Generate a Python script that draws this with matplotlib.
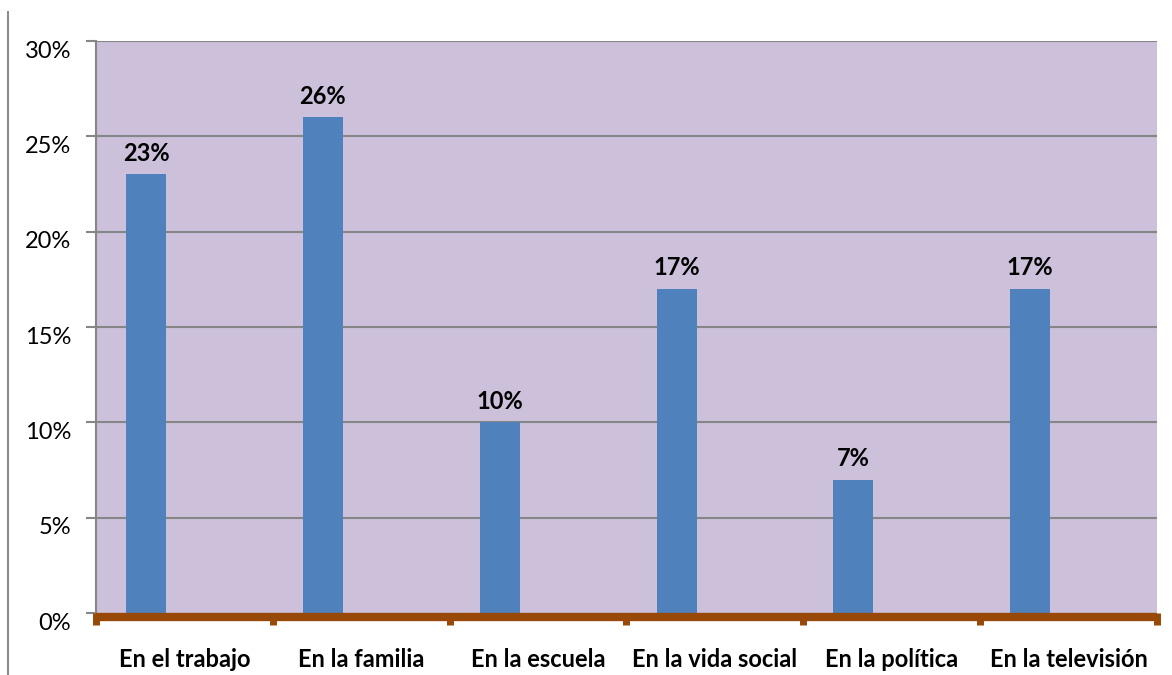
import matplotlib.pyplot as plt
import matplotlib.transforms as mtransforms
from matplotlib.lines import Line2D
import numpy as np

# Chart data
categories = ["En el trabajo", "En la familia", "En la escuela",
              "En la vida social", "En la política", "En la televisión"]
values = [23, 26, 10, 17, 7, 17]
yticks = [0, 5, 10, 15, 20, 25, 30]
ytick_labels = ["0%", "5%", "10%", "15%", "20%", "25%", "30%"]

BAR_COLOR = "#4F81BD"
PLOT_BG = "#CCC0DA"
GRID_COLOR = "#868686"
AXIS_COLOR = "#984807"

plt.rcParams['font.family'] = ['Lato', 'DejaVu Sans']

fig = plt.figure(figsize=(11.72, 6.75), dpi=100)
W, H = 1172, 675
# plot area in pixels: left 96, right 1157, top 41, bottom 613
ax = fig.add_axes([96 / W, 1 - 613 / H, (1157 - 96) / W, (613 - 41) / H])
ax.set_facecolor(PLOT_BG)

x = np.arange(len(categories))
ax.bar(x - 0.217, values, width=0.226, color=BAR_COLOR, zorder=3)

ax.set_xlim(-0.5, len(categories) - 0.5)
ax.set_ylim(0, 30)

# gridlines
for t in yticks[1:]:
    ax.axhline(t, color=GRID_COLOR, linewidth=1.5, zorder=1)

ax.set_yticks(yticks)
ax.set_yticklabels(ytick_labels, fontsize=17)
ax.tick_params(axis='y', length=7, width=1.5, color=GRID_COLOR, pad=11)
ax.set_xticks([])
# tick labels sit a bit below their gridlines in the original
shift = mtransforms.ScaledTranslation(0, -8 / 100, fig.dpi_scale_trans)
for lab in ax.get_yticklabels():
    lab.set_transform(lab.get_transform() + shift)

for side in ['top', 'right', 'bottom']:
    ax.spines[side].set_visible(False)
ax.spines['left'].set_color(GRID_COLOR)
ax.spines['left'].set_linewidth(1.5)

# brown category axis with downward tick marks at category boundaries
ax.plot([-0.5, len(categories) - 0.5], [-0.2, -0.2], color=AXIS_COLOR,
        linewidth=6, solid_capstyle='butt', clip_on=False, zorder=4)
for b in np.arange(-0.5, len(categories), 1.0):
    ax.plot([b, b], [0, -0.65], color=AXIS_COLOR, linewidth=5,
            solid_capstyle='butt', clip_on=False, zorder=4)

# data labels
for xi, v in zip(x, values):
    ax.text(xi - 0.217, v + 0.5, f"{v}%", ha='center', va='bottom',
            fontsize=17, fontweight='bold', zorder=5)

# category labels
for xi, c in zip(x, categories):
    ax.text(xi, -2.45, c, ha='center', va='center', fontsize=17,
            fontweight='bold')

# left border line of the chart frame
fig.add_artist(Line2D([8 / W, 8 / W], [0, 1 - 12 / H], color="#8C8C8C",
                      linewidth=1.5, transform=fig.transFigure))

fig.savefig("out.png", dpi=100, facecolor='white')
